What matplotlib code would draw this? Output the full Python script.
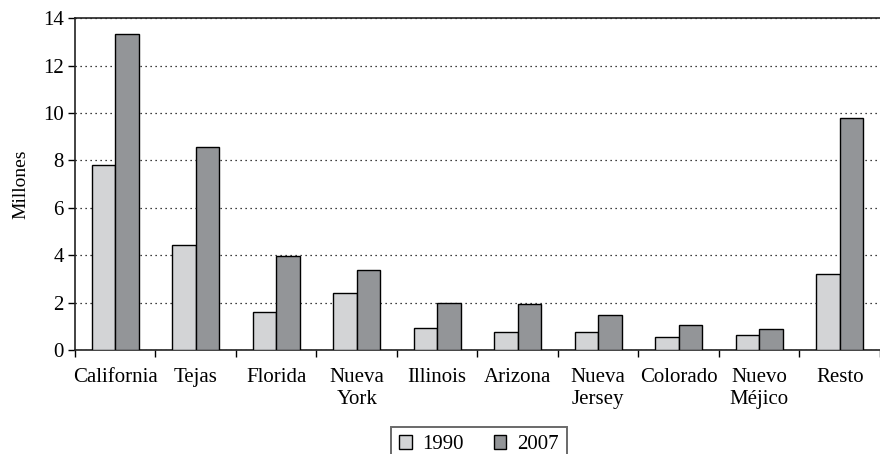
import numpy as np
import matplotlib
matplotlib.use('Agg')
import matplotlib.pyplot as plt
from matplotlib.ticker import FixedLocator

plt.rcParams['font.family'] = ['Liberation Serif', 'DejaVu Serif']

estados = ['California', 'Tejas', 'Florida', 'Nueva\nYork', 'Illinois',
           'Arizona', 'Nueva\nJersey', 'Colorado', 'Nuevo\nMéjico', 'Resto']
v1990 = [7.8, 4.43, 1.6, 2.4, 0.93, 0.76, 0.76, 0.55, 0.63, 3.2]
v2007 = [13.33, 8.58, 3.96, 3.37, 1.98, 1.96, 1.48, 1.05, 0.89, 9.8]
anios = ['1990', '2007']
colores = ['#d3d4d6', '#939598']

fig = plt.figure(figsize=(8.8, 4.54), dpi=100)
ax = fig.add_axes([0.0852, 0.229, 0.9148, 0.731])

x = np.arange(len(estados))
w = 0.29
ax.bar(x - w/2, v1990, w, color=colores[0], edgecolor='black', linewidth=1, label=anios[0], zorder=3)
ax.bar(x + w/2, v2007, w, color=colores[1], edgecolor='black', linewidth=1, label=anios[1], zorder=3)

ax.set_xlim(-0.5, len(estados) - 0.5)
ax.set_ylim(0, 14)
ax.set_yticks(np.arange(0, 15, 2))
ax.yaxis.grid(True, linestyle=(0, (1, 3)), color='black', linewidth=0.9)
ax.set_axisbelow(True)

ax.set_xticks(x)
ax.set_xticklabels(estados, fontsize=15, linespacing=1.2)
ax.tick_params(axis='x', which='major', length=0, pad=13)
ax.xaxis.set_minor_locator(FixedLocator(np.arange(-0.5, len(estados), 1.0)))
ax.tick_params(axis='x', which='minor', length=5, width=1, direction='out')
ax.tick_params(axis='y', labelsize=15, length=5, width=1, direction='out', pad=3)

ax.set_ylabel('Millones', fontsize=14, labelpad=10)

for s in ['left', 'bottom', 'top']:
    ax.spines[s].set_linewidth(1.2)
    ax.spines[s].set_color('#222222')
ax.spines['right'].set_visible(False)

leg = fig.legend(loc='upper center', bbox_to_anchor=(0.544, 0.0595), ncol=2, fontsize=15,
                 frameon=True, fancybox=False, edgecolor='#444444',
                 handlelength=0.6, handleheight=0.6, handletextpad=0.5,
                 columnspacing=1.45, borderpad=0.4, borderaxespad=0)
leg.get_frame().set_linewidth(1.4)

fig.savefig('out.png', dpi=100)
